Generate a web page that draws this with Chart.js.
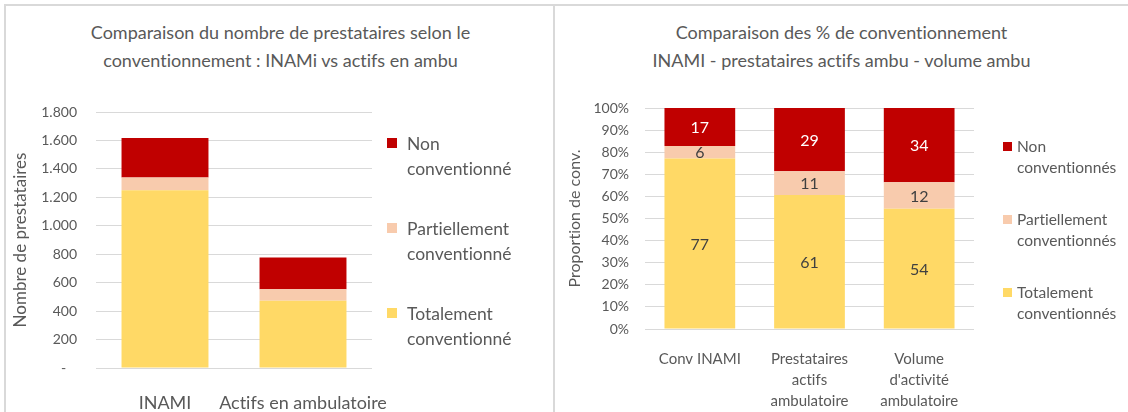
<!DOCTYPE html>
<html>
<head>
<meta charset="utf-8">
<script src="https://cdn.jsdelivr.net/npm/chart.js@4.4.1/dist/chart.umd.min.js"></script>
<style>
body { margin:0; background:#fff; font-family:Lato, sans-serif; color:#595959;
       font-variant-ligatures:none; font-feature-settings:"liga" 0; }
#wrap { position:relative; width:1128px; height:412px; overflow:hidden; }
.line { position:absolute; background:#d9d9d9; }
.title { position:absolute; top:18px; text-align:center; font-size:18px; line-height:28px; }
.legend { position:absolute; }
.legend .item { position:absolute; white-space:nowrap; }
.legend .sq { position:absolute; }
canvas { position:absolute; }
</style>
</head>
<body>
<div id="wrap">
  <div class="line" style="left:4px;top:4px;width:1124px;height:2px"></div>
  <div class="line" style="left:4px;top:4px;width:2px;height:408px"></div>
  <div class="line" style="left:553px;top:4px;width:2px;height:408px"></div>

  <div class="title" style="left:6px;width:549px">Comparaison du nombre de prestataires selon le<br>conventionnement : INAMi vs actifs en ambu</div>
  <div class="title" style="left:555px;width:573px">Comparaison des % de conventionnement<br>INAMI - prestataires actifs ambu - volume ambu</div>

  <canvas id="c1" style="left:6px;top:6px" width="547" height="406"></canvas>
  <canvas id="c2" style="left:555px;top:6px" width="573" height="406"></canvas>
  <div class="legend" id="leg1"></div>
  <div class="legend" id="leg2"></div>
</div>
<script>
const RED = '#C00000', PEACH = '#F8CBAD', YELLOW = '#FFD966';

// left chart: number of providers
const leftCategories = ['INAMI', 'Actifs en ambulatoire'];
const leftTotal = [1250, 472];
const leftPartiel = [90, 82];
const leftNon = [277, 223];
const leftNames = ['Totalement conventionné', 'Partiellement conventionné', 'Non conventionné'];

// right chart: % of conventionnement
const rightCategories = [['Conv INAMI'], ['Prestataires', 'actifs', 'ambulatoire'], ['Volume', "d'activité", 'ambulatoire']];
const rightTotal = [77.2, 60.6, 54.4];
const rightPartiel = [5.6, 10.8, 12.0];
const rightNon = [17.2, 28.6, 33.6];
const rightNames = ['Totalement conventionnés', 'Partiellement conventionnés', 'Non conventionnés'];

const colors = [YELLOW, PEACH, RED];

Chart.defaults.font.family = 'Lato';
Chart.defaults.color = '#595959';
Chart.defaults.animation = false;

const fmtThousands = v => v === 0 ? '-   ' : String(v).replace(/\B(?=(\d{3})+(?!\d))/g, '.');

// values written in the middle of each segment
const segLabels = {
    id: 'segLabels',
    afterDatasetsDraw(chart) {
        const ctx = chart.ctx;
        ctx.save();
        ctx.font = '16px Lato';
        ctx.textAlign = 'center';
        ctx.textBaseline = 'middle';
        chart.data.datasets.forEach((ds, i) => {
            chart.getDatasetMeta(i).data.forEach((bar, j) => {
                ctx.fillStyle = ds.backgroundColor === RED ? '#ffffff' : '#404040';
                ctx.fillText(Math.round(ds.data[j]), bar.x, (bar.y + bar.base) / 2 + 1);
            });
        });
        ctx.restore();
    }
};

function makeDatasets(vals, names, pct) {
    return vals.map((d, i) => ({ label: names[i], data: d, backgroundColor: colors[i],
        barPercentage: pct, categoryPercentage: 1 }));
}

new Chart(document.getElementById('c1'), {
    type: 'bar',
    data: { labels: leftCategories, datasets: makeDatasets([leftTotal, leftPartiel, leftNon], leftNames, 0.63) },
    options: {
        responsive: false,
        layout: { padding: { top: 106, right: 181, left: 0, bottom: 0 } },
        plugins: { legend: { display: false }, tooltip: { enabled: false } },
        scales: {
            x: { stacked: true, grid: { display: false }, border: { display: false },
                 ticks: { font: { size: 18 }, padding: 16, color: '#595959',
                          maxRotation: 0, minRotation: 0, autoSkip: false },
                 afterFit: s => { s.height = 44; } },
            y: { stacked: true, min: 0, max: 1800,
                 grid: { color: '#d9d9d9', drawTicks: false }, border: { display: false },
                 ticks: { stepSize: 200, font: { size: 14 }, padding: 19, callback: fmtThousands },
                 title: { display: true, text: 'Nombre de prestataires', font: { size: 17 }, padding: { top: 4 } },
                 afterFit: s => { s.width = 90; } }
        }
    }
});

new Chart(document.getElementById('c2'), {
    type: 'bar',
    data: { labels: rightCategories, datasets: makeDatasets([rightTotal, rightPartiel, rightNon], rightNames, 0.645) },
    options: {
        responsive: false,
        layout: { padding: { top: 102, right: 154, left: 0, bottom: 0 } },
        plugins: { legend: { display: false }, tooltip: { enabled: false } },
        scales: {
            x: { stacked: true, grid: { display: false }, border: { display: false },
                 ticks: { font: { size: 15, lineHeight: 1.4 }, padding: 12, color: '#595959',
                          maxRotation: 0, minRotation: 0, autoSkip: false },
                 afterFit: s => { s.height = 83; } },
            y: { stacked: true, min: 0, max: 100,
                 grid: { color: '#d9d9d9', drawTicks: false }, border: { display: false },
                 ticks: { stepSize: 10, font: { size: 14 }, padding: 16, callback: v => v + '%' },
                 title: { display: true, text: 'Proportion de conv.', font: { size: 16 }, padding: { top: 10 } },
                 afterFit: s => { s.width = 90; } }
        }
    },
    plugins: [segLabels]
});

// html legends, reversed (Non on top)
function buildLegend(id, names, x, tops, sq, fontSize, lineH, gap) {
    const el = document.getElementById(id);
    names.slice().reverse().forEach((name, k) => {
        const i = names.length - 1 - k;
        const words = name.split(' ');
        const sqEl = document.createElement('div');
        sqEl.className = 'sq';
        sqEl.style.cssText = `left:${x}px;top:${tops[k]}px;width:${sq}px;height:${sq}px;background:${colors[i]}`;
        el.appendChild(sqEl);
        const t = document.createElement('div');
        t.className = 'item';
        t.style.cssText = `left:${x + gap}px;top:${tops[k] + sq / 2 - lineH / 2}px;font-size:${fontSize}px;line-height:${lineH}px`;
        t.innerHTML = words[0] + '<br>' + words.slice(1).join(' ');
        el.appendChild(t);
    });
}
buildLegend('leg1', leftNames, 387, [138, 223, 308], 10, 17.5, 25, 20);
buildLegend('leg2', rightNames, 1003, [142, 215, 288], 9, 15.5, 21, 14);
</script>
</body>
</html>
